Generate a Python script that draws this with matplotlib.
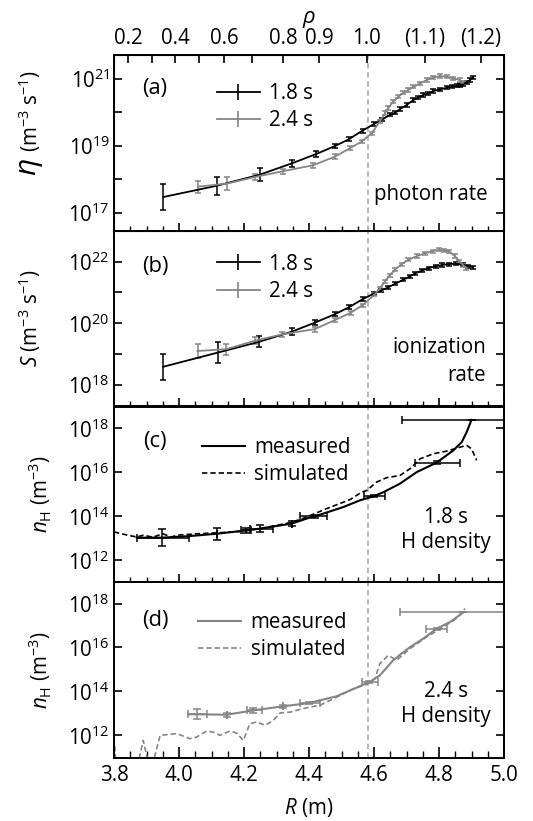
import numpy as np
import matplotlib
matplotlib.use('Agg')
from matplotlib import pyplot as plt
from matplotlib.lines import Line2D
from matplotlib.ticker import MultipleLocator, FixedLocator, FuncFormatter, NullFormatter

plt.rcParams['font.family'] = ['Open Sans', 'DejaVu Sans']
plt.rcParams['mathtext.fontset'] = 'custom'
plt.rcParams['mathtext.rm'] = 'Open Sans'
plt.rcParams['mathtext.it'] = 'Open Sans:italic'

FS = 14.8
GRAY = '#858585'
BLACK = '#000000'

# ---- data (log10 values) ----
# (a) photon rate
a18_R = [3.952, 4.118, 4.249, 4.348, 4.423, 4.481, 4.523, 4.565, 4.601, 4.624, 4.649, 4.665, 4.68, 4.70,
         4.721, 4.736, 4.752, 4.767, 4.782, 4.803, 4.824, 4.839, 4.856, 4.865, 4.875, 4.885, 4.895, 4.905]
a18_L = [17.47, 17.81, 18.14, 18.48, 18.76, 19.0, 19.2, 19.46, 19.66, 19.78, 19.93, 19.99, 20.10, 20.22,
         20.37, 20.45, 20.52, 20.57, 20.64, 20.69, 20.74, 20.77, 20.80, 20.82, 20.85, 20.89, 20.97, 21.05]
a18_E = [0.40, 0.27, 0.19, 0.10, 0.09, 0.06, 0.06, 0.06, 0.05, 0.05, 0.05, 0.05, 0.05, 0.05,
         0.05, 0.05, 0.05, 0.05, 0.05, 0.05, 0.05, 0.05, 0.05, 0.05, 0.05, 0.05, 0.05, 0.05]

a24_R = [4.058, 4.147, 4.234, 4.319, 4.413, 4.48, 4.526, 4.562, 4.593, 4.618, 4.634, 4.644, 4.659,
         4.675, 4.69, 4.706, 4.721, 4.742, 4.762, 4.782, 4.803, 4.824, 4.844, 4.865, 4.875]
a24_L = [17.78, 17.87, 18.07, 18.24, 18.42, 18.68, 18.93, 19.13, 19.38, 19.73, 19.98, 20.13, 20.32,
         20.47, 20.59, 20.67, 20.77, 20.87, 20.97, 21.05, 21.09, 21.07, 21.02, 20.97, 20.89]
a24_E = [0.18, 0.19, 0.10, 0.08, 0.08, 0.07, 0.06, 0.05, 0.05, 0.05, 0.05, 0.05, 0.05,
         0.05, 0.05, 0.05, 0.05, 0.05, 0.05, 0.05, 0.05, 0.05, 0.05, 0.05, 0.05]

# (b) ionization rate
b18_R = [3.952, 4.12, 4.247, 4.348, 4.418, 4.481, 4.523, 4.565, 4.601, 4.62, 4.643, 4.665, 4.69, 4.71,
         4.727, 4.748, 4.769, 4.79, 4.81, 4.832, 4.853, 4.875, 4.89, 4.905]
b18_L = [18.59, 19.05, 19.40, 19.73, 20.02, 20.30, 20.52, 20.78, 20.97, 21.05, 21.16, 21.28, 21.41, 21.52,
         21.62, 21.71, 21.79, 21.85, 21.89, 21.92, 21.93, 21.90, 21.85, 21.82]
b18_E = [0.42, 0.33, 0.18, 0.10, 0.08, 0.06, 0.06, 0.06, 0.05, 0.05, 0.05, 0.05, 0.05, 0.05,
         0.05, 0.05, 0.05, 0.05, 0.05, 0.05, 0.05, 0.05, 0.05, 0.05]

b24_R = [4.057, 4.146, 4.235, 4.318, 4.418, 4.481, 4.528, 4.565, 4.601, 4.617, 4.633, 4.648, 4.664,
         4.685, 4.706, 4.732, 4.758, 4.78, 4.80, 4.816, 4.832, 4.848, 4.863, 4.875, 4.884]
b24_L = [19.10, 19.16, 19.44, 19.64, 19.81, 20.11, 20.34, 20.59, 20.92, 21.12, 21.35, 21.55, 21.73,
         21.92, 22.06, 22.18, 22.27, 22.34, 22.38, 22.37, 22.32, 22.18, 22.00, 21.88, 21.79]
b24_E = [0.22, 0.18, 0.10, 0.08, 0.08, 0.06, 0.06, 0.05, 0.05, 0.05, 0.05, 0.05, 0.05,
         0.05, 0.05, 0.05, 0.05, 0.05, 0.05, 0.05, 0.05, 0.05, 0.05, 0.05, 0.05]

# (c) H density 1.8 s
c_line_R = [3.87, 3.949, 4.031, 4.118, 4.206, 4.249, 4.347, 4.393, 4.418, 4.505, 4.557, 4.60, 4.629,
            4.68, 4.731, 4.793, 4.844, 4.87, 4.885, 4.90]
c_line_L = [13.03, 13.03, 13.10, 13.21, 13.36, 13.44, 13.67, 13.90, 14.0, 14.42, 14.73, 14.92, 15.10,
            15.49, 16.01, 16.45, 17.0, 17.38, 17.83, 18.39]
c_pt_R = [3.949, 4.118, 4.206, 4.249, 4.347, 4.418, 4.60, 4.793, 4.90]
c_pt_L = [13.03, 13.21, 13.36, 13.44, 13.67, 14.0, 14.92, 16.45, 18.39]
c_pt_E = [0.40, 0.28, 0.10, 0.15, 0.10, 0.08, 0.06, 0.05, 0.0]
c_pt_xlo = [3.87, 4.118, 4.19, 4.218, 4.347, 4.372, 4.57, 4.726, 4.685]
c_pt_xhi = [4.031, 4.118, 4.22, 4.29, 4.347, 4.454, 4.634, 4.865, 5.10]
c_sim_R = [3.80, 3.84, 3.87, 3.89, 3.92, 3.95, 3.975, 4.0, 4.06, 4.118, 4.198, 4.27, 4.347, 4.393, 4.454,
           4.526, 4.562, 4.578, 4.608, 4.639, 4.68, 4.711, 4.742, 4.783, 4.824, 4.865, 4.885, 4.90, 4.916]
c_sim_L = [13.29, 13.15, 13.06, 13.14, 13.05, 13.21, 13.06, 13.15, 13.21, 13.25, 13.32, 13.50, 13.73, 13.97,
           14.35, 14.76, 15.10, 15.18, 15.56, 15.76, 15.86, 16.17, 16.62, 16.85, 16.97, 17.15, 17.23, 17.08, 16.55]

# (d) H density 2.4 s
d_line_R = [4.029, 4.056, 4.147, 4.229, 4.319, 4.40, 4.485, 4.585, 4.618, 4.659, 4.711, 4.752, 4.793, 4.834, 4.875]
d_line_L = [12.96, 12.96, 12.94, 13.14, 13.32, 13.47, 13.78, 14.42, 14.73, 15.42, 16.02, 16.41, 16.86, 17.16, 17.60]
d_pt_R = [4.056, 4.147, 4.229, 4.319, 4.40, 4.585, 4.793, 4.875]
d_pt_L = [12.96, 12.94, 13.14, 13.32, 13.47, 14.42, 16.86, 17.60]
d_pt_E = [0.22, 0.10, 0.10, 0.08, 0.06, 0.05, 0.05, 0.0]
d_pt_xlo = [4.029, 4.147, 4.208, 4.319, 4.372, 4.562, 4.76, 4.68]
d_pt_xhi = [4.085, 4.147, 4.254, 4.319, 4.434, 4.613, 4.824, 5.10]
d_sim_R = [3.80, 3.806, 3.875, 3.89, 3.905, 3.921, 3.942, 3.993, 4.034, 4.054, 4.085, 4.105, 4.126, 4.157,
           4.178, 4.198, 4.218, 4.239, 4.265, 4.29, 4.311, 4.342, 4.372, 4.403, 4.434, 4.485, 4.536, 4.578,
           4.603, 4.618, 4.644, 4.67, 4.711, 4.762, 4.813, 4.854, 4.88]
d_sim_L = [11.9, 10.8, 10.8, 11.77, 10.8, 10.8, 12.0, 12.08, 11.85, 11.92, 12.2, 12.15, 12.0, 12.2,
           12.1, 11.77, 12.53, 12.61, 12.46, 12.68, 13.02, 13.06, 13.18, 13.29, 13.37, 13.74, 14.12, 14.32,
           14.58, 15.27, 15.64, 15.42, 15.95, 16.48, 16.93, 17.32, 17.77]

# top axis: rho values and their R positions
rho_R = [3.844, 3.918, 3.988, 4.063, 4.139, 4.224, 4.32, 4.432, 4.578, 4.757, 4.929]
rho_lbl = ['0.2', '', '0.4', '', '0.6', '', '0.8', '0.9', '1.0', '(1.1)', '(1.2)']

SEP_R = 4.58


def yerr_log(L, E):
    L = np.array(L)
    E = np.array(E)
    v = 10 ** L
    return v, [v - 10 ** (L - E), 10 ** (L + E) - v]


def plot_rate(ax, R, L, E, color):
    v, ye = yerr_log(L, E)
    ax.errorbar(R, v, yerr=ye, color=color, lw=1.3, elinewidth=1.1, capsize=2.4, capthick=1.1)


def plot_density(ax, lineR, lineL, pR, pL, pE, xlo, xhi, simR, simL, color):
    ax.plot(lineR, 10 ** np.array(lineL), color=color, lw=1.5)
    v, ye = yerr_log(pL, pE)
    xe = [np.array(pR) - np.array(xlo), np.array(xhi) - np.array(pR)]
    ax.errorbar(pR, v, yerr=ye, xerr=xe, fmt='none', ecolor=color, elinewidth=1.1,
                capsize=2.6, capthick=1.1)
    ax.plot(simR, 10 ** np.array(simL), color=color, lw=1.2, ls=(0, (3.2, 1.8)))


def log_fmt(y, pos):
    return r'$10^{%d}$' % int(round(np.log10(y)))


fig = plt.figure(figsize=(5.33, 8.21), dpi=100)
gs = fig.add_gridspec(4, 1, left=114 / 533, right=504 / 533, top=1 - 55 / 821, bottom=1 - 758 / 821,
                      hspace=0)
axes = [fig.add_subplot(gs[i]) for i in range(4)]

plot_rate(axes[0], a18_R, a18_L, a18_E, BLACK)
plot_rate(axes[0], a24_R, a24_L, a24_E, GRAY)
plot_rate(axes[1], b18_R, b18_L, b18_E, BLACK)
plot_rate(axes[1], b24_R, b24_L, b24_E, GRAY)
plot_density(axes[2], c_line_R, c_line_L, c_pt_R, c_pt_L, c_pt_E, c_pt_xlo, c_pt_xhi,
             c_sim_R, c_sim_L, BLACK)
plot_density(axes[3], d_line_R, d_line_L, d_pt_R, d_pt_L, d_pt_E, d_pt_xlo, d_pt_xhi,
             d_sim_R, d_sim_L, GRAY)

ylims = [(10 ** 16.46, 10 ** 21.72), (10 ** 17.3, 10 ** 23.0), (1e11, 1e19), (10 ** 10.97, 10 ** 18.97)]
ymaj = [[1e17, 1e19, 1e21], [1e18, 1e20, 1e22], [1e12, 1e14, 1e16, 1e18], [1e12, 1e14, 1e16, 1e18]]
ymin = [[1e18, 1e20], [1e19, 1e21], [], []]

for i, ax in enumerate(axes):
    ax.set_xlim(3.8, 5.0)
    ax.set_yscale('log')
    ax.set_ylim(*ylims[i])
    ax.yaxis.set_major_locator(FixedLocator(ymaj[i]))
    ax.yaxis.set_minor_locator(FixedLocator(ymin[i]))
    ax.yaxis.set_major_formatter(FuncFormatter(log_fmt))
    ax.yaxis.set_minor_formatter(NullFormatter())
    ax.xaxis.set_major_locator(MultipleLocator(0.2))
    ax.xaxis.set_minor_locator(MultipleLocator(0.05))
    ax.tick_params(axis='y', which='both', direction='in', left=True, right=True,
                   length=6, width=1.2, labelsize=FS, pad=3)
    if i < 3:
        ax.tick_params(axis='x', which='major', direction='inout', length=11, width=1.2,
                       top=False, labelbottom=False)
        ax.tick_params(axis='x', which='minor', direction='inout', length=7, width=1.0, top=False)
    else:
        ax.tick_params(axis='x', which='major', direction='in', length=8, width=1.2,
                       top=False, labelsize=FS, pad=5)
        ax.tick_params(axis='x', which='minor', direction='in', length=5, width=1.0, top=False)
        ax.xaxis.set_major_formatter(FuncFormatter(lambda x, p: '%.1f' % x))
    for s in ax.spines.values():
        s.set_linewidth(1.4)
    ax.axvline(SEP_R, color='#b0b0b0', lw=1.3, ls=(0, (3, 2)), zorder=0)

# top rho axis
top = axes[0].twiny()
top.set_xlim(3.8, 5.0)
top.xaxis.set_major_locator(FixedLocator(rho_R))
top.set_xticklabels(rho_lbl)
top.tick_params(axis='x', direction='in', length=6, width=1.2, labelsize=FS, pad=4)
top.set_xlabel(r'$\rho$', fontsize=FS + 1, labelpad=4)

# panel letters
letters = ['(a)', '(b)', '(c)', '(d)']
letter_y = [0.812, 0.795, 0.80, 0.78]
for ax, t, y in zip(axes, letters, letter_y):
    ax.text(0.105, y, t, transform=ax.transAxes, ha='center', va='center', fontsize=FS + 1)

# legends
rate_handles = [Line2D([], [], color=BLACK, lw=1.3, marker='|', markersize=11, mew=1.2),
                Line2D([], [], color=GRAY, lw=1.3, marker='|', markersize=11, mew=1.2)]
dens_handles = [[Line2D([], [], color=c, lw=1.5), Line2D([], [], color=c, lw=1.2, ls=(0, (3.2, 1.8)))]
                for c in (BLACK, GRAY)]
handles = [rate_handles, rate_handles, dens_handles[0], dens_handles[1]]
labels = [['1.8 s', '2.4 s'], ['1.8 s', '2.4 s'], ['measured', 'simulated'], ['measured', 'simulated']]
leg_y = [0.84, 0.87, 0.825, 0.83]
leg_x = [0.263, 0.263, 0.225, 0.216]
for i, ax in enumerate(axes):
    ax.legend(handles[i], labels[i], loc='upper left', bbox_to_anchor=(leg_x[i], leg_y[i]), frameon=False,
              fontsize=FS, borderpad=0, borderaxespad=0, handlelength=2.1, handletextpad=0.45,
              labelspacing=0.3)

# annotations
axes[0].text(0.959, 0.175, 'photon rate', transform=axes[0].transAxes, ha='right', va='baseline', fontsize=FS)
axes[1].text(0.953, 0.303, 'ionization', transform=axes[1].transAxes, ha='right', va='baseline', fontsize=FS)
axes[1].text(0.953, 0.147, 'rate', transform=axes[1].transAxes, ha='right', va='baseline', fontsize=FS)
axes[2].text(0.852, 0.335, '1.8 s', transform=axes[2].transAxes, ha='center', va='baseline', fontsize=FS)
axes[2].text(0.852, 0.193, 'H density', transform=axes[2].transAxes, ha='center', va='baseline', fontsize=FS)
axes[3].text(0.852, 0.349, '2.4 s', transform=axes[3].transAxes, ha='center', va='baseline', fontsize=FS)
axes[3].text(0.852, 0.207, 'H density', transform=axes[3].transAxes, ha='center', va='baseline', fontsize=FS)

# y labels
axes[0].text(-0.215, 0.36, r'$\eta$', transform=axes[0].transAxes, rotation=90, ha='center', va='center',
             fontsize=FS + 7)
axes[0].text(-0.215, 0.68, r'(m$^{-3}$ s$^{-1}$)', transform=axes[0].transAxes, rotation=90, ha='center',
             va='center', fontsize=FS)
axes[1].text(-0.215, 0.5, r'$S$ (m$^{-3}$ s$^{-1}$)', transform=axes[1].transAxes, rotation=90, ha='center',
             va='center', fontsize=FS)
for ax in axes[2:]:
    ax.text(-0.19, 0.5, r'$n_{\mathrm{H}}$ (m$^{-3}$)', transform=ax.transAxes, rotation=90, ha='center',
            va='center', fontsize=FS)

axes[3].set_xlabel(r'$R$ (m)', fontsize=FS, labelpad=7)

plt.savefig('out.png', dpi=100)
